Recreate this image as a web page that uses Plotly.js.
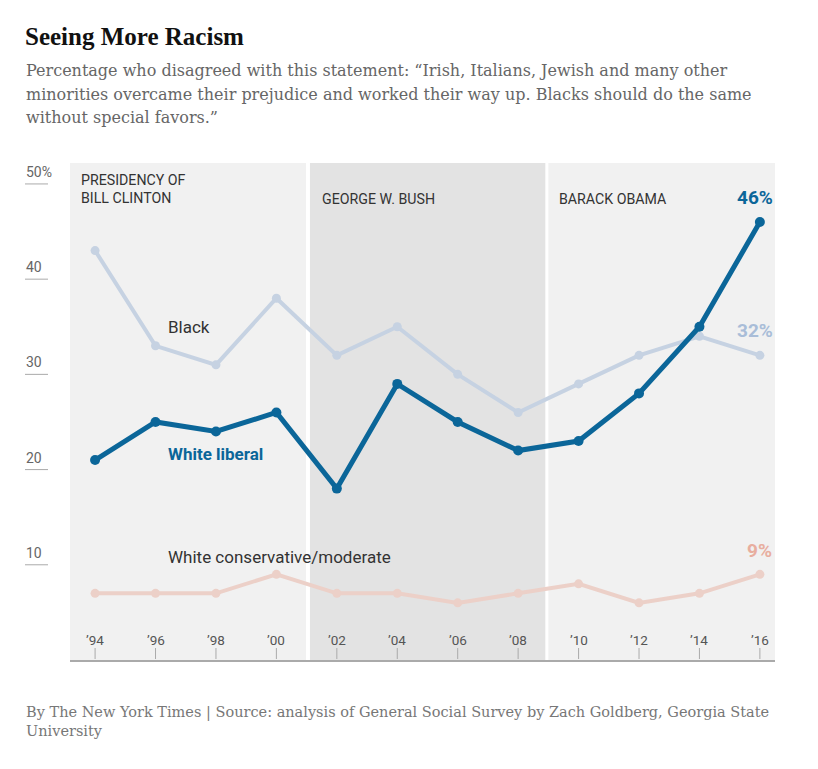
<!DOCTYPE html>
<html>
<head>
<meta charset="utf-8">
<script src="https://cdn.plot.ly/plotly-3.0.1.min.js"></script>
<style>html,body{margin:0;padding:0;background:#fff;}</style>
</head>
<body>
<div id="chart" style="width:818px;height:769px;"></div>
<script>
const years = [1994, 1996, 1998, 2000, 2002, 2004, 2006, 2008, 2010, 2012, 2014, 2016];
const yearLabels = ["’94","’96","’98","’00","’02","’04","’06","’08","’10","’12","’14","’16"];
const black = [43, 33, 31, 38, 32, 35, 30, 26, 29, 32, 34, 32];
const whiteLiberal = [21, 25, 24, 26, 18, 29, 25, 22, 23, 28, 35, 46];
const whiteConservative = [7, 7, 7, 9, 7, 7, 6, 7, 8, 6, 7, 9];
const yTicks = [10, 20, 30, 40, 50];
const yTickText = ["10", "20", "30", "40", "50%"];
const presidencies = [
  {name: "PRESIDENCY OF<br>BILL CLINTON", start: 1993.17, end: 2000.98, color: "#f1f1f1"},
  {name: "GEORGE W. BUSH", start: 2001.11, end: 2008.9, color: "#e3e3e3"},
  {name: "BARACK OBAMA", start: 2009.0, end: 2016.5, color: "#f1f1f1"}
];
const subtitleLines = [
  "Percentage who disagreed with this statement: “Irish, Italians, Jewish and many other",
  "minorities overcame their prejudice and worked their way up. Blacks should do the same",
  "without special favors.”"
];

const C_LIB = "#0b6699", C_BLACK = "#c6d2e2", C_CONS = "#ecd0c8";
const W = 818, H = 769, L = 70, R = 775, T = 163, B = 660;
const px = v => (v - L) / (R - L);      // pixel x -> paper
const py = v => (B - v) / (B - T);      // pixel y -> paper

const traces = [
  {x: years, y: whiteConservative, mode: "lines+markers", line: {color: C_CONS, width: 4}, marker: {color: C_CONS, size: 9}, hoverinfo: "x+y"},
  {x: years, y: black, mode: "lines+markers", line: {color: C_BLACK, width: 4}, marker: {color: C_BLACK, size: 9}, hoverinfo: "x+y"},
  {x: years, y: whiteLiberal, mode: "lines+markers", line: {color: C_LIB, width: 5}, marker: {color: C_LIB, size: 10}, hoverinfo: "x+y"}
];

const shapes = [];
const annotations = [];
const labelOffsets = [0.3, 0.33, 0.27];
presidencies.forEach((p, i) => {
  shapes.push({type: "rect", layer: "below", xref: "x", yref: "paper", x0: p.start, x1: p.end, y0: 0, y1: 1, fillcolor: p.color, line: {width: 0}});
  annotations.push({xref: "x", yref: "paper", x: p.start + labelOffsets[i], y: i === 0 ? py(170) : py(189), xanchor: "left", yanchor: "top", align: "left",
    text: p.name, showarrow: false, font: {family: "Roboto, sans-serif", size: 14.2, color: "#333"}});
});
yTicks.forEach((v, i) => {
  shapes.push({type: "line", xref: "paper", yref: "y", x0: px(25), x1: px(48), y0: v, y1: v, line: {color: "#aaa", width: 1}});
  annotations.push({xref: "paper", yref: "y", x: px(24), y: v, xanchor: "left", yanchor: "bottom", yshift: 2, text: yTickText[i], showarrow: false,
    font: {family: "Roboto, sans-serif", size: 14, color: "#666"}});
});

// series labels
annotations.push({xref: "x", yref: "y", x: 1996.35, y: black[1], yshift: 19, xanchor: "left", text: "Black", showarrow: false, font: {family: "Roboto, sans-serif", size: 17, color: "#333"}});
annotations.push({xref: "x", yref: "y", x: 1996.35, y: whiteLiberal[0], yshift: 6, xanchor: "left", text: "<b>White liberal</b>", showarrow: false, font: {family: "Roboto, sans-serif", size: 17, color: C_LIB}});
annotations.push({xref: "x", yref: "y", x: 1996.35, y: whiteConservative[3], yshift: 17, xanchor: "left", text: "White conservative/moderate", showarrow: false, font: {family: "Roboto, sans-serif", size: 17, color: "#333"}});
// end labels
const last = years.length - 1;
annotations.push({xref: "x", yref: "y", x: years[last], y: whiteLiberal[last], xanchor: "center", yanchor: "bottom", xshift: -5, yshift: 11, text: "<b>" + whiteLiberal[last] + "%</b>", showarrow: false, font: {family: "Roboto, sans-serif", size: 19, color: C_LIB}});
annotations.push({xref: "x", yref: "y", x: years[last], y: black[last], xanchor: "center", yanchor: "bottom", xshift: -5, yshift: 11, text: "<b>" + black[last] + "%</b>", showarrow: false, font: {family: "Roboto, sans-serif", size: 19, color: "#a9bdd8"}});
annotations.push({xref: "x", yref: "y", x: years[last], y: whiteConservative[last], xanchor: "center", yanchor: "bottom", xshift: 0, yshift: 10, text: "<b>" + whiteConservative[last] + "%</b>", showarrow: false, font: {family: "Roboto, sans-serif", size: 19, color: "#e8ae9f"}});
// x tick labels
years.forEach((yr, i) => {
  annotations.push({xref: "x", yref: "paper", x: yr, y: py(640), yanchor: "middle", text: yearLabels[i], showarrow: false, font: {family: "Roboto, sans-serif", size: 13.5, color: "#555"}});
  shapes.push({type: "line", xref: "x", yref: "paper", x0: yr, x1: yr, y0: py(648), y1: py(659), line: {color: "#aaa", width: 1}});
});
// subtitle & footer
subtitleLines.forEach((t, i) => {
  annotations.push({xref: "paper", yref: "paper", x: px(24), y: py(70 + 24 * i), xanchor: "left", yanchor: "middle", align: "left", showarrow: false,
    text: t, font: {family: "DejaVu Serif, serif", size: 16, color: "#666"}});
});
annotations.push({xref: "paper", yref: "paper", x: px(24), y: py(702), xanchor: "left", yanchor: "top", align: "left", showarrow: false,
  text: "By The New York Times | Source: analysis of General Social Survey by Zach Goldberg, Georgia State<br>University",
  font: {family: "DejaVu Serif, serif", size: 14.5, color: "#777"}});

const layout = {
  width: W, height: H,
  margin: {l: L, r: W - R, t: T, b: H - B, pad: 0},
  paper_bgcolor: "#fff", plot_bgcolor: "#fff",
  showlegend: false,
  title: {text: "<b>Seeing More Racism</b>", x: 25 / W, xanchor: "left", y: 1 - 36 / H, yanchor: "middle", font: {family: "Liberation Serif, serif", size: 25, color: "#111"}},
  xaxis: {range: [1993.17, 2016.5], showgrid: false, zeroline: false, showticklabels: false, ticks: "", showline: true, linecolor: "#aaa", linewidth: 2, fixedrange: true},
  yaxis: {range: [0, 52.2], showgrid: false, zeroline: false, showticklabels: false, ticks: "", showline: false, fixedrange: true},
  shapes: shapes,
  annotations: annotations
};
Plotly.newPlot("chart", traces, layout, {displayModeBar: false, staticPlot: true});
</script>
</body>
</html>
